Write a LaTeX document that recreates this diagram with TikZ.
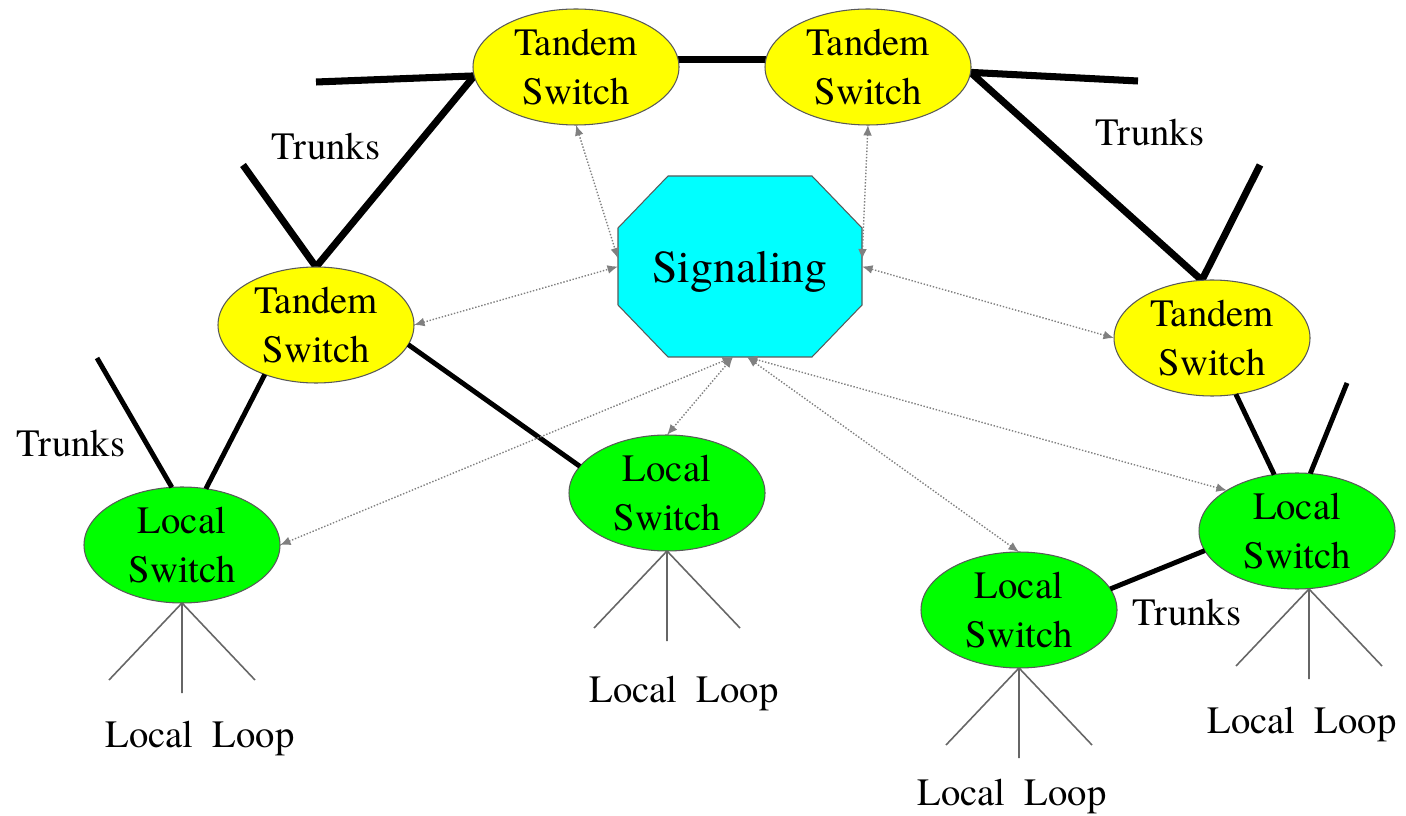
\documentclass[tikz,border=0pt]{standalone}
\usepackage{fontspec}
\IfFontExistsTF{texgyretermes-regular.otf}
  {\setmainfont{texgyretermes-regular.otf}}
  {\setmainfont{Liberation Serif}}
\usetikzlibrary{shapes.geometric,arrows.meta,positioning,calc}
\pgfdeclarelayer{background}
\pgfsetlayers{background,main}
\definecolor{tandemfill}{RGB}{255,255,0}
\definecolor{localfill}{RGB}{0,255,0}
\definecolor{sigfill}{RGB}{0,255,255}

\begin{document}
\begin{tikzpicture}[node distance=3cm,on grid,
  every node/.style={font=\fontsize{22}{28}\selectfont},
  switch/.style={ellipse,draw=black!65,line width=0.6pt,inner sep=0pt,outer sep=0pt,
    minimum width=3.92cm,minimum height=2.32cm},
  tandem/.style={switch,fill=tandemfill,label={[align=center]center:Tandem\\Switch}},
  local/.style={switch,fill=localfill,label={[align=center]center:Local\\Switch}},
  sigbox/.style={rectangle,inner sep=0pt,outer sep=0pt,minimum width=4.88cm,
    minimum height=3.62cm,text depth=0pt,font=\fontsize{26}{30}\selectfont},
  trunk/.style={line width=4pt},
  link/.style={line width=2.8pt},
  wire/.style={gray!80!black,line width=0.9pt},
  sigarrow/.style={{Latex[length=6pt,width=5pt]}-{Latex[length=6pt,width=5pt]},
    densely dotted,gray,line width=0.8pt}]
  \useasboundingbox (0,0) rectangle (28.12,-16.32);

  % switches
  \node[tandem,minimum width=4.12cm] (t1) at (11.52,-1.34) {};
  \node[tandem,minimum width=4.12cm] (t2) [right=5.84cm of t1] {};
  \node[tandem] (t3) [below left=5.16cm and 5.2cm of t1] {};
  \node[tandem] (t4) [below right=5.42cm and 6.88cm of t2] {};
  \node[local] (l1) [below left=4.4cm and 2.68cm of t3] {};
  \node[local] (l2) [below right=3.36cm and 7.02cm of t3] {};
  \node[local] (l4) [below right=3.86cm and 1.7cm of t4] {};
  \node[local] (l3) [below left=1.58cm and 5.56cm of l4] {};
  \node[sigbox] (sig) [below right=3.99cm and 3.28cm of t1] {Signaling};

  % free trunk ends
  \coordinate (tl) at (6.32,-1.64);
  \coordinate (tr) at (22.76,-1.62);
  \coordinate (t3up) at (4.86,-3.3);
  \coordinate (t4up) at (25.2,-3.3);
  \coordinate (l1up) at (1.94,-7.16);
  \coordinate (l4up) at (26.94,-7.66);

  \begin{pgfonlayer}{background}
    \draw[fill=sigfill,draw=black!65,line width=0.6pt]
      ($(sig.north west)+(1,0)$) -- ($(sig.north east)+(-1,0)$)
      -- ($(sig.north east)+(0,-1.04)$) -- ($(sig.south east)+(0,1.04)$)
      -- ($(sig.south east)+(-1,0)$) -- ($(sig.south west)+(1,0)$)
      -- ($(sig.south west)+(0,1.04)$) -- ($(sig.north west)+(0,-1.04)$) -- cycle;
    \draw[trunk] (tl) -- (t1.185) -- (t3.north) -- (t3up);
    \draw[trunk] (tr) -- (t2.357) -- (t4.100) -- (t4up);
    \draw[trunk] (t1.4) -- (t2.176);
  \end{pgfonlayer}

  \path[link] (l1up) edge (l1.100)
              (t3.224) edge (l1.67)
              (t3.348) edge (l2.163)
              (t4.293) edge (l4.112)
              (l4.77) edge (l4up)
              (l3.13) edge (l4.192);

  % local loops
  \foreach \n/\dx in {l1/0,l2/0,l3/0,l4/0.24}
    \draw[wire] ($(\n.south)+(\dx,0)$) -- ++(-1.46,-1.54)
                ($(\n.south)+(\dx,0)$) -- ++(0,-1.8)
                ($(\n.south)+(\dx,0)$) -- ++(1.46,-1.54);

  \path[sigarrow] (t1.south) edge ($(sig.west)+(0,0.16)$)
                  (t2.south) edge ($(sig.east)+(0,0.14)$)
                  (t3.east) edge (sig.west)
                  (t4.west) edge (sig.east)
                  (l1.east) edge ($(sig.south)+(-0.14,0)$)
                  (l2.north) edge ($(sig.south)+(-0.14,0)$)
                  (l3.north) edge ($(sig.south)+(0.14,0)$)
                  (l4.150) edge ($(sig.south)+(0.14,0)$);

  % labels
  \node (tk1) at (6.52,-2.92) {Trunks};
  \node (tk2) at (1.42,-8.86) {Trunks};
  \node (tk3) at (23.0,-2.64) {Trunks};
  \node (tk4) at (23.74,-12.24) {Trunks};
  \node[anchor=base] (ll1) at (4.0,-14.94) {Local~~Loop};
  \node[anchor=base] (ll2) at (13.68,-14.04) {Local~~Loop};
  \node[anchor=base] (ll3) at (20.24,-16.1) {Local~~Loop};
  \node[anchor=base] (ll4) at (26.04,-14.66) {Local~~Loop};
\end{tikzpicture}
\end{document}
